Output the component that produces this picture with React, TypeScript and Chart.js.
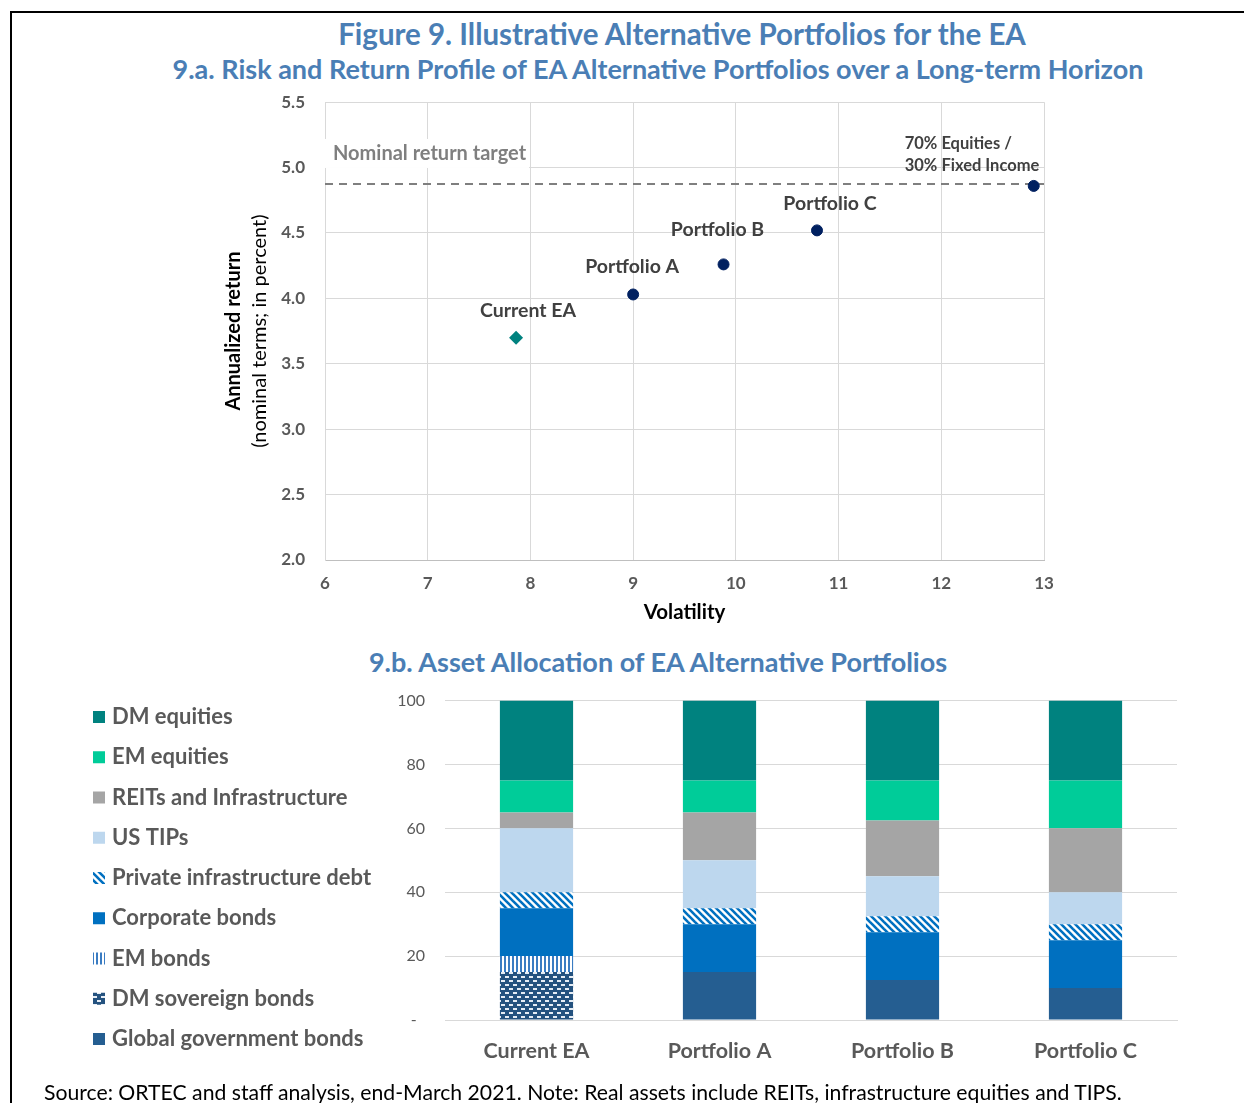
import React, { useEffect, useRef } from "react";
import { Chart, registerables } from "chart.js";

Chart.register(...registerables);

const FONT = "Lato, 'Open Sans', sans-serif";

// ---- 9.a risk / return points ----
const pointNames = ["Current EA", "Portfolio A", "Portfolio B", "Portfolio C", "70% Equities /|30% Fixed Income"];
const volatility = [7.86, 9.0, 9.88, 10.79, 12.9];
const annualizedReturn = [3.7, 4.03, 4.26, 4.52, 4.86];
const nominalReturnTarget = 4.875;
const targetLabel = "Nominal return target";
const volatilityRange = [6, 13];
const returnRange = [2.0, 5.5];

// ---- 9.b asset allocation (percent of portfolio) ----
const portfolios = ["Current EA", "Portfolio A", "Portfolio B", "Portfolio C"];
const globalGovernmentBonds = [0, 15, 12.5, 10];
const dmSovereignBonds = [15, 0, 0, 0];
const emBonds = [5, 0, 0, 0];
const corporateBonds = [15, 15, 15, 15];
const privateInfrastructureDebt = [5, 5, 5, 5];
const usTips = [20, 15, 12.5, 10];
const reitsAndInfrastructure = [5, 15, 17.5, 20];
const emEquities = [10, 10, 12.5, 15];
const dmEquities = [25, 25, 25, 25];
const allocationTicks = [0, 20, 40, 60, 80, 100];

// label placement relative to each point (pixels)
const pointLabelOffsets = [
  { dx: 12, dy: -27, align: "center" },
  { dx: -1, dy: -28, align: "center" },
  { dx: -6, dy: -35, align: "center" },
  { dx: 13, dy: -27, align: "center" },
  { dx: -129, dy: -42, align: "left" },
];

const LEGEND = { left: 13, top: 46, step: 40.25, box: 12 };

function makePattern(w: number, h: number, draw: (c: CanvasRenderingContext2D) => void) {
  const cv = document.createElement("canvas");
  cv.width = w;
  cv.height = h;
  const c = cv.getContext("2d")!;
  draw(c);
  return c.createPattern(cv, "repeat")!;
}

const scatterText = {
  id: "scatterText",
  afterDatasetsDraw(chart: any) {
    const { ctx, chartArea, scales } = chart;
    const x = scales.x;
    const y = scales.y;
    ctx.save();
    ctx.textBaseline = "middle";

    // target line caption
    ctx.font = `bold 20px ${FONT}`;
    const tw = ctx.measureText(targetLabel).width;
    const ty = y.getPixelForValue(nominalReturnTarget) - 30;
    ctx.fillStyle = "#ffffff";
    ctx.fillRect(chartArea.left - 3, ty - 15, tw + 14, 29);
    ctx.fillStyle = "#7f7f7f";
    ctx.textAlign = "left";
    ctx.fillText(targetLabel, chartArea.left + 8, ty);

    // point captions
    pointNames.forEach((name, i) => {
      const px = x.getPixelForValue(volatility[i]);
      const py = y.getPixelForValue(annualizedReturn[i]);
      const o = pointLabelOffsets[i];
      ctx.fillStyle = "#404040";
      ctx.textAlign = o.align;
      const lines = name.split("|");
      if (lines.length > 1) {
        ctx.font = `bold 16.5px ${FONT}`;
        lines.forEach((ln, k) => ctx.fillText(ln, px + o.dx, py + o.dy + k * 22));
      } else {
        ctx.font = `bold 19.5px ${FONT}`;
        ctx.fillText(name, px + o.dx, py + o.dy);
      }
    });

    // axis titles
    const midY = (chartArea.top + chartArea.bottom) / 2;
    ctx.fillStyle = "#000000";
    ctx.textAlign = "center";
    ctx.save();
    ctx.translate(chartArea.left - 91, midY);
    ctx.rotate(-Math.PI / 2);
    ctx.font = `bold 20px ${FONT}`;
    ctx.fillText("Annualized return", 0, 0);
    ctx.restore();
    ctx.save();
    ctx.translate(chartArea.left - 65, midY);
    ctx.rotate(-Math.PI / 2);
    ctx.font = `20px ${FONT}`;
    ctx.fillText("(nominal terms; in percent)", 0, 0);
    ctx.restore();

    ctx.font = `bold 20.5px ${FONT}`;
    ctx.fillText("Volatility", (chartArea.left + chartArea.right) / 2, chartArea.bottom + 52);
    ctx.restore();
  },
};

const allocationLegend = {
  id: "allocationLegend",
  afterDraw(chart: any) {
    const { ctx } = chart;
    const sets = chart.data.datasets;
    ctx.save();
    ctx.font = `bold 22px ${FONT}`;
    ctx.textBaseline = "middle";
    ctx.textAlign = "left";
    for (let i = 0; i < sets.length; i++) {
      const ds = sets[sets.length - 1 - i];
      const cy = LEGEND.top + i * LEGEND.step;
      ctx.fillStyle = ds.backgroundColor;
      ctx.fillRect(LEGEND.left, cy - LEGEND.box / 2, LEGEND.box, LEGEND.box);
      ctx.fillStyle = "#595959";
      ctx.fillText(ds.label, LEGEND.left + 19, cy);
    }
    ctx.restore();
  },
};

export default function App() {
  const scatterRef = useRef<HTMLCanvasElement>(null);
  const barRef = useRef<HTMLCanvasElement>(null);

  useEffect(() => {
    const charts: Chart[] = [];

    const points = volatility.map((v, i) => ({ x: v, y: annualizedReturn[i] }));

    charts.push(
      new Chart(scatterRef.current!, {
        type: "scatter",
        data: {
          datasets: [
            {
              label: pointNames[0],
              data: points.slice(0, 1),
              pointStyle: "rectRot",
              pointRadius: 7,
              backgroundColor: "#00827f",
              borderColor: "#00827f",
              borderWidth: 0,
            },
            {
              label: "Portfolios",
              data: points.slice(1),
              pointStyle: "circle",
              pointRadius: 5.5,
              backgroundColor: "#002060",
              borderColor: "#002060",
              borderWidth: 1,
            },
            {
              type: "line",
              label: targetLabel,
              data: volatilityRange.map((v) => ({ x: v, y: nominalReturnTarget })),
              borderColor: "#7f7f7f",
              borderWidth: 2,
              borderDash: [8, 6],
              pointRadius: 0,
              fill: false,
            } as any,
          ],
        },
        options: {
          responsive: false,
          animation: false,
          layout: { padding: { top: 12, right: 36, left: 0, bottom: 0 } },
          plugins: { legend: { display: false }, tooltip: { enabled: false } },
          scales: {
            x: {
              type: "linear",
              min: volatilityRange[0],
              max: volatilityRange[1],
              afterFit: (s: any) => {
                s.height = 75;
              },
              ticks: {
                stepSize: 1,
                padding: 13,
                color: "#595959",
                font: { family: FONT, size: 17, weight: "bold" },
              },
              grid: { color: "#d9d9d9", drawTicks: false },
              border: { color: "#bfbfbf" },
            },
            y: {
              min: returnRange[0],
              max: returnRange[1],
              afterFit: (s: any) => {
                s.width = 125;
              },
              ticks: {
                stepSize: 0.5,
                padding: 20,
                color: "#595959",
                font: { family: FONT, size: 17, weight: "bold" },
                callback: (v: any) => Number(v).toFixed(1),
              },
              grid: { color: "#d9d9d9", drawTicks: false },
              border: { color: "#d9d9d9" },
            },
          },
        },
        plugins: [scatterText],
      })
    );

    const diagonal = makePattern(7, 7, (c) => {
      c.fillStyle = "#ffffff";
      c.fillRect(0, 0, 7, 7);
      c.strokeStyle = "#0070c0";
      c.lineWidth = 2.6;
      for (const off of [-7, 0, 7]) {
        c.beginPath();
        c.moveTo(-1, off - 1);
        c.lineTo(8, off + 8);
        c.stroke();
      }
    });
    const vertical = makePattern(4, 4, (c) => {
      c.fillStyle = "#ffffff";
      c.fillRect(0, 0, 4, 4);
      c.fillStyle = "#3a7cc2";
      c.fillRect(0, 0, 2, 4);
    });
    const dotted = makePattern(8, 8, (c) => {
      c.fillStyle = "#24527f";
      c.fillRect(0, 0, 8, 8);
      c.fillStyle = "#e6edf5";
      c.fillRect(1, 1, 4, 2);
      c.fillRect(5, 5, 4, 2);
      c.fillRect(-3, 5, 4, 2);
    });

    const series = [
      { label: "Global government bonds", data: globalGovernmentBonds, color: "#255e91" as any },
      { label: "DM sovereign bonds", data: dmSovereignBonds, color: dotted },
      { label: "EM bonds", data: emBonds, color: vertical },
      { label: "Corporate bonds", data: corporateBonds, color: "#0070c0" },
      { label: "Private infrastructure debt", data: privateInfrastructureDebt, color: diagonal },
      { label: "US TIPs", data: usTips, color: "#bdd7ee" },
      { label: "REITs and Infrastructure", data: reitsAndInfrastructure, color: "#a5a5a5" },
      { label: "EM equities", data: emEquities, color: "#00cc99" },
      { label: "DM equities", data: dmEquities, color: "#00827f" },
    ];

    charts.push(
      new Chart(barRef.current!, {
        type: "bar",
        data: {
          labels: portfolios,
          datasets: series.map((s) => ({
            label: s.label,
            data: s.data,
            backgroundColor: s.color,
            borderWidth: 0,
            categoryPercentage: 1,
            barPercentage: 0.4,
          })),
        },
        options: {
          responsive: false,
          animation: false,
          layout: { padding: { top: 11, right: 23, left: 0, bottom: 0 } },
          plugins: { legend: { display: false }, tooltip: { enabled: false } },
          scales: {
            x: {
              stacked: true,
              afterFit: (s: any) => {
                s.height = 60;
              },
              ticks: {
                padding: 10,
                color: "#595959",
                font: { family: FONT, size: 21.5, weight: "bold" },
              },
              grid: { display: false },
              border: { color: "#d9d9d9" },
            },
            y: {
              stacked: true,
              min: allocationTicks[0],
              max: allocationTicks[allocationTicks.length - 1],
              afterFit: (s: any) => {
                s.width = 365;
              },
              afterBuildTicks: (s: any) => {
                s.ticks = allocationTicks.map((v) => ({ value: v }));
              },
              ticks: {
                padding: 20,
                color: "#595959",
                font: { family: FONT, size: 16 },
                callback: (v: any) => (Number(v) === 0 ? "-  " : String(v)),
              },
              grid: { color: "#d9d9d9", drawTicks: false },
              border: { display: false },
            },
          },
        },
        plugins: [allocationLegend],
      })
    );

    return () => charts.forEach((c) => c.destroy());
  }, []);

  const titleColor = "#4a7eb5";
  const heading = (text: string, cx: number, cy: number, size: number) => (
    <div
      style={{
        position: "absolute",
        left: cx - 600,
        width: 1200,
        top: cy - 20,
        height: 40,
        lineHeight: "40px",
        textAlign: "center",
        fontSize: size,
        fontWeight: 700,
        color: titleColor,
        whiteSpace: "nowrap",
      }}
    >
      {text}
    </div>
  );

  return (
    <div
      style={{
        position: "absolute",
        left: 0,
        top: 0,
        width: 1244,
        height: 1103,
        background: "#ffffff",
        overflow: "hidden",
        fontFamily: FONT,
      }}
    >
      <div style={{ position: "absolute", left: 10, top: 11, right: 0, borderTop: "2px solid #000" }} />
      <div style={{ position: "absolute", left: 10, top: 11, bottom: 0, borderLeft: "2px solid #000" }} />
      {heading("Figure 9. Illustrative Alternative Portfolios for the EA", 682, 34, 29.5)}
      {heading("9.a. Risk and Return Profile of EA Alternative Portfolios over a Long-term Horizon", 658, 69, 27)}
      <canvas ref={scatterRef} width={880} height={563} style={{ position: "absolute", left: 200, top: 72 }} />
      {heading("9.b. Asset Allocation of EA Alternative Portfolios", 658, 662, 27)}
      <canvas ref={barRef} width={1120} height={409} style={{ position: "absolute", left: 80, top: 671 }} />
      <div
        style={{
          position: "absolute",
          left: 44,
          top: 1079,
          height: 26,
          lineHeight: "26px",
          fontSize: 21.2,
          color: "#000",
          whiteSpace: "nowrap",
        }}
      >
        Source: ORTEC and staff analysis, end-March 2021. Note: Real assets include REITs, infrastructure equities and TIPS.
      </div>
    </div>
  );
}
